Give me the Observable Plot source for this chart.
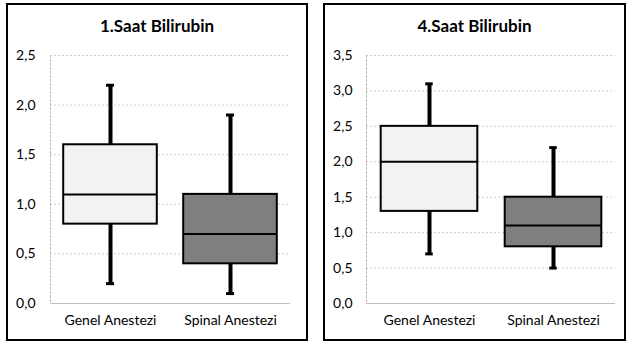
<!DOCTYPE html>
<html>
<head>
<meta charset="utf-8">
<script src="https://cdn.jsdelivr.net/npm/d3@7"></script>
<script src="https://cdn.jsdelivr.net/npm/@observablehq/plot@0.6"></script>
<style>
  html, body { margin: 0; padding: 0; background: #fff; }
  #wrap { position: relative; width: 626px; height: 347px; overflow: hidden; font-family: Lato, "Open Sans", sans-serif; }
  .panel { position: absolute; border: 2px solid #000; box-sizing: border-box; }
  .title { position: absolute; width: 100%; text-align: center; font-weight: bold; font-size: 17px; color: #000; }
  .plot { position: absolute; }
</style>
</head>
<body>
<div id="wrap"></div>
<script>
const categories = ["Genel Anestezi", "Spinal Anestezi"];
const fills = ["#f2f2f2", "#7f7f7f"];

const titles = ["1.Saat Bilirubin", "4.Saat Bilirubin"];
const yMax = [2.5, 3.5];
const yTicks1 = [0, 0.5, 1.0, 1.5, 2.0, 2.5];
const yTicks4 = [0, 0.5, 1.0, 1.5, 2.0, 2.5, 3.0, 3.5];

// 1. Saat: min, q1, median, q3, max
const saat1Min = [0.2, 0.1];
const saat1Q1 = [0.8, 0.4];
const saat1Med = [1.1, 0.7];
const saat1Q3 = [1.6, 1.1];
const saat1Max = [2.2, 1.9];

// 4. Saat
const saat4Min = [0.7, 0.5];
const saat4Q1 = [1.3, 0.8];
const saat4Med = [2.0, 1.1];
const saat4Q3 = [2.5, 1.5];
const saat4Max = [3.1, 2.2];

const fmt = d => d.toFixed(1).replace(".", ",");

function build(mins, q1s, meds, q3s, maxs) {
  return categories.map((c, i) => ({cat: c, min: mins[i], q1: q1s[i], med: meds[i], q3: q3s[i], max: maxs[i], fill: fills[i]}));
}

function makePlot(data, ymax, ticks, layout) {
  const bandW = (layout.width - layout.marginLeft - layout.marginRight) / categories.length;
  const boxInset = bandW * 0.11;
  const capInset = (bandW - 8) / 2;
  return Plot.plot({
    width: layout.width,
    height: 300,
    marginTop: 15,
    marginBottom: 37,
    marginLeft: layout.marginLeft,
    marginRight: layout.marginRight,
    style: {fontFamily: "Lato, 'Open Sans', sans-serif", fontSize: "14px", color: "#000", background: "transparent"},
    x: {domain: categories, padding: 0, label: null},
    y: {domain: [0, ymax], label: null},
    marks: [
      Plot.ruleY(ticks.filter(t => t > 0), {stroke: "#cfcfcf", strokeDasharray: "2,2", strokeWidth: 1}),
      Plot.frame({anchor: "left", stroke: "#bbb", strokeDasharray: "2,2"}),
      Plot.ruleY([0], {stroke: "#bfbfbf", strokeWidth: 1}),
      Plot.axisY({ticks, tickFormat: fmt, tickSize: 0, tickPadding: layout.tickPadding, fontSize: 14}),
      Plot.axisX({tickSize: 0, tickPadding: 12, fontSize: 14}),
      Plot.ruleX(data, {x: "cat", y1: "min", y2: "q1", stroke: "#000", strokeWidth: 4}),
      Plot.ruleX(data, {x: "cat", y1: "q3", y2: "max", stroke: "#000", strokeWidth: 4}),
      Plot.tickY(data, {x: "cat", y: "min", stroke: "#000", strokeWidth: 3, insetLeft: capInset, insetRight: capInset}),
      Plot.tickY(data, {x: "cat", y: "max", stroke: "#000", strokeWidth: 3, insetLeft: capInset, insetRight: capInset}),
      Plot.barY(data, {x: "cat", y1: "q1", y2: "q3", fill: d => d.fill, stroke: "#000", strokeWidth: 2, insetLeft: boxInset, insetRight: boxInset}),
      Plot.tickY(data, {x: "cat", y: "med", stroke: "#000", strokeWidth: 2, insetLeft: boxInset, insetRight: boxInset})
    ]
  });
}

const wrap = document.getElementById("wrap");

function addPanel(left, width, title, svg, svgLeft) {
  const p = document.createElement("div");
  p.className = "panel";
  p.style.left = left + "px";
  p.style.top = "3px";
  p.style.width = width + "px";
  p.style.height = "338px";
  wrap.appendChild(p);
  const t = document.createElement("div");
  t.className = "title";
  t.textContent = title;
  t.style.left = left + "px";
  t.style.width = width + "px";
  t.style.top = "15px";
  wrap.appendChild(t);
  svg.classList.add("plot");
  svg.style.left = svgLeft + "px";
  svg.style.top = "40px";
  wrap.appendChild(svg);
}

const d1 = build(saat1Min, saat1Q1, saat1Med, saat1Q3, saat1Max);
const d4 = build(saat4Min, saat4Q1, saat4Med, saat4Q3, saat4Max);

const p1 = makePlot(d1, yMax[0], yTicks1, {width: 313, marginLeft: 50, marginRight: 23, tickPadding: 15});
const p4 = makePlot(d4, yMax[1], yTicks4, {width: 313, marginLeft: 53, marginRight: 11, tickPadding: 14});

addPanel(6, 302, titles[0], p1, 0);
addPanel(323, 303, titles[1], p4, 313);
</script>
</body>
</html>
